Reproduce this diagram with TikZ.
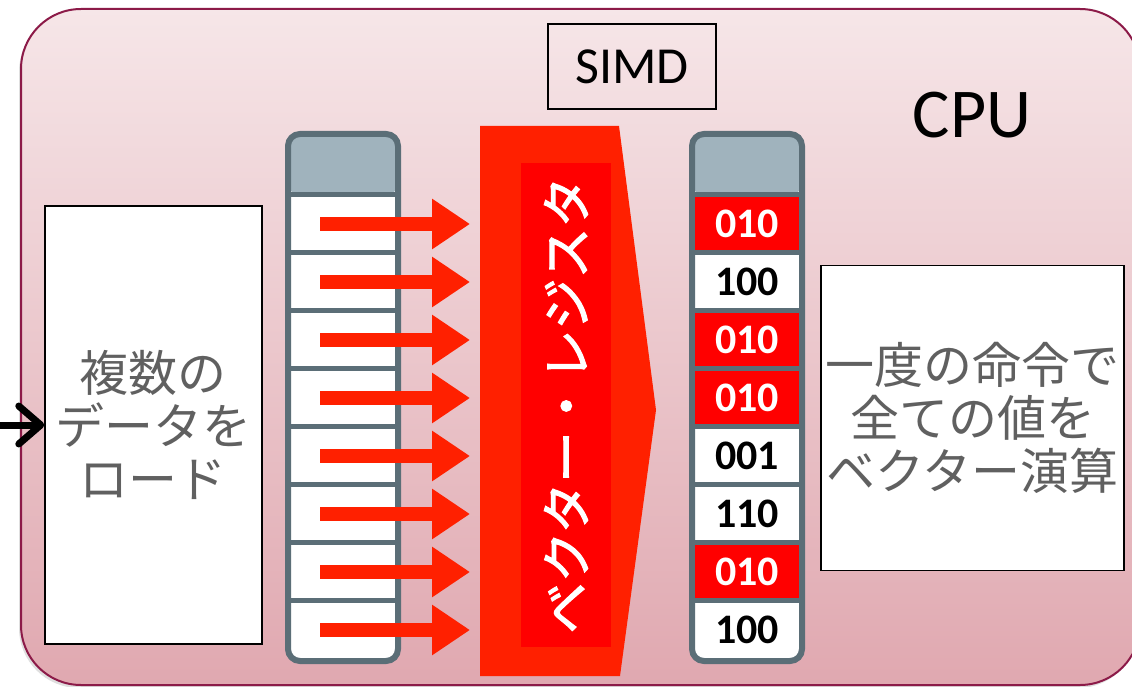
\documentclass[tikz,border=0pt]{standalone}
\usepackage{fontspec}
\setmainfont{Carlito}
\newfontfamily\jp{Noto Sans CJK JP}
\newfontfamily\jpheavy[FakeBold=2]{Noto Sans CJK JP}
\usetikzlibrary{arrows.meta, shadows}
\definecolor{cpuline}{HTML}{8C1A48}
\definecolor{cputop}{HTML}{F6E6E8}
\definecolor{cpubottom}{HTML}{E0A8B0}
\definecolor{regline}{HTML}{5B6E77}
\definecolor{headfill}{HTML}{A0B3BD}
\definecolor{arrowred}{HTML}{FF2000}
\definecolor{cellred}{HTML}{FF0000}
\definecolor{jpgray}{HTML}{606060}
\tikzstyle{cpubox} = [rectangle, rounded corners=60pt, minimum width=1119pt, minimum height=676pt, draw=cpuline, line width=2pt, top color=cputop, bottom color=cpubottom, drop shadow={shadow xshift=-2pt, shadow yshift=-3pt, opacity=0.25}]
\tikzstyle{textbox} = [rectangle, draw=black, line width=1.5pt, fill=white, inner sep=0pt, align=center, text=jpgray, font=\jp\fontsize{49}{53}\selectfont]
\tikzstyle{regcol} = [rectangle, rounded corners=12pt, minimum width=110pt, minimum height=527pt, draw=regline, line width=6pt, fill=white, path picture={\fill[headfill] (path picture bounding box.north west) rectangle ([yshift=-61pt]path picture bounding box.north east);}]
\tikzstyle{cell} = [rectangle, minimum width=104pt, minimum height=58pt, inner sep=0pt, font=\bfseries\fontsize{42}{42}\selectfont, append after command={(\tikzlastnode.north west) edge[draw=regline, line width=5pt] (\tikzlastnode.north east)}]
\tikzstyle{hot} = [fill=cellred, text=white]
\tikzstyle{push} = [draw=arrowred, line width=14pt, -{Triangle[width=48pt,length=38pt]}]
\tikzstyle{feed} = [draw=black, line width=7pt, line cap=round, -{Straight Barb[length=22pt,width=38pt,round]}]

\begin{document}
\begin{tikzpicture}[x=1pt, y=-1pt, node distance=58pt]
	\useasboundingbox (0,0) rectangle (1132,687);
	\node(cpubg) [cpubox] at (580.5,347) {};
	\node(cpu) [font=\fontsize{70}{70}\selectfont] at (972,115) {CPU};
	\node(simd) [draw=black, line width=1.5pt, minimum width=168pt, minimum height=85pt, font=\fontsize{52}{52}\selectfont] at (632,66.5) {SIMD};
	%----------------------------------------------------%
	\node(load) [textbox, minimum width=217pt, minimum height=438pt] at (153.5,425) {複数の\\データを\\ロード};
	\coordinate (src) at (-8,425);
	\draw[feed] (src) -- (load.west);
	%----------------------------------------------------%
	\node(lcol) [regcol] at (343,397.5) {};
	\node(lreg1) [cell] at (343,224) {};
	\node(lreg2) [cell, below of=lreg1] {};
	\node(lreg3) [cell, below of=lreg2] {};
	\node(lreg4) [cell, below of=lreg3] {};
	\node(lreg5) [cell, below of=lreg4] {};
	\node(lreg6) [cell, below of=lreg5] {};
	\node(lreg7) [cell, below of=lreg6] {};
	\node(lreg8) [cell, below of=lreg7] {};
	%----------------------------------------------------%
	\fill[arrowred] (480,126) -- (619,126) -- (656,410) -- (620,676) -- (480,676) -- cycle;
	\node(vreg) [rotate=90, fill=cellred, minimum width=484pt, minimum height=90pt, inner sep=0pt, text=white, font=\jpheavy\fontsize{51}{51}\selectfont] at (566,405) {ベクター・レジスタ};
	\coordinate (vin) at (470,400);
	\draw[push] ([xshift=-23pt]lreg1.center) -- (vin |- lreg1.center);
	\draw[push] ([xshift=-23pt]lreg2.center) -- (vin |- lreg2.center);
	\draw[push] ([xshift=-23pt]lreg3.center) -- (vin |- lreg3.center);
	\draw[push] ([xshift=-23pt]lreg4.center) -- (vin |- lreg4.center);
	\draw[push] ([xshift=-23pt]lreg5.center) -- (vin |- lreg5.center);
	\draw[push] ([xshift=-23pt]lreg6.center) -- (vin |- lreg6.center);
	\draw[push] ([xshift=-23pt]lreg7.center) -- (vin |- lreg7.center);
	\draw[push] ([xshift=-23pt]lreg8.center) -- (vin |- lreg8.center);
	%----------------------------------------------------%
	\node(rcol) [regcol] at (747,397.5) {};
	\node(rreg1) [cell, hot] at (747,224) {010};
	\node(rreg2) [cell, below of=rreg1] {100};
	\node(rreg3) [cell, hot, below of=rreg2] {010};
	\node(rreg4) [cell, hot, below of=rreg3] {010};
	\node(rreg5) [cell, below of=rreg4] {001};
	\node(rreg6) [cell, below of=rreg5] {110};
	\node(rreg7) [cell, hot, below of=rreg6] {010};
	\node(rreg8) [cell, below of=rreg7] {100};
	%----------------------------------------------------%
	\node(calc) [textbox, minimum width=303pt, minimum height=305pt] at (972.5,418) {一度の命令で\\全ての値を\\ベクター演算};
\end{tikzpicture}
\end{document}
